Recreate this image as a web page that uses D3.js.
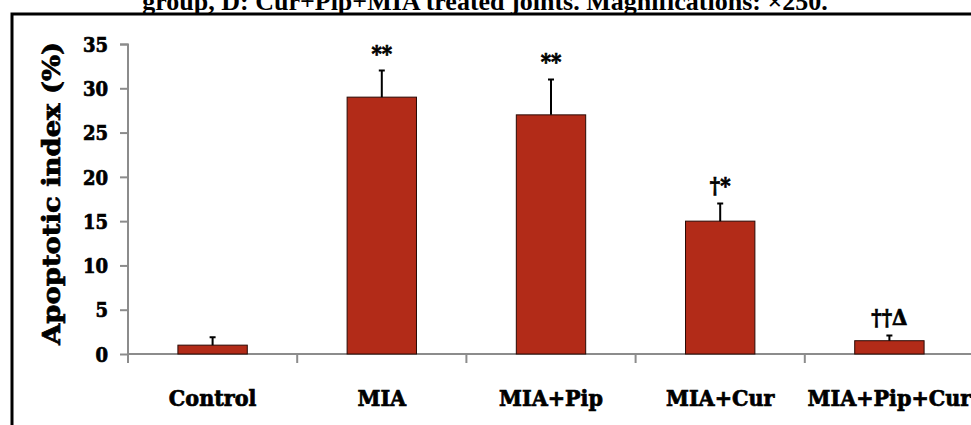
<!DOCTYPE html>
<html>
<head>
<meta charset="utf-8">
<script src="https://cdn.jsdelivr.net/npm/d3@7"></script>
<style>
  body { margin: 0; background: #fff; }
  svg { display: block; }
  .heavy { font-family: 'DejaVu Serif Condensed', 'DejaVu Serif', serif; font-weight: bold;
           stroke: #000; stroke-width: 0.7px; paint-order: stroke; fill: #000; }
</style>
</head>
<body>
<div id="chart"></div>
<script>
// groups, means, error (SD) and significance marks
const groups = ["Control", "MIA", "MIA+Pip", "MIA+Cur", "MIA+Pip+Cur"];
const means = [1, 29, 27, 15, 1.5];
const errors = [0.9, 3, 4, 2, 0.6];
const marks = ["", "**", "**", "†*", "††Δ"];
const yTicks = [0, 5, 10, 15, 20, 25, 30, 35];

const W = 971, H = 425;
const margin = { top: 44, right: -3, bottom: 71, left: 128 };
const width = W - margin.left - margin.right,
      height = H - margin.top - margin.bottom;

const svgRoot = d3.select("#chart").append("svg")
  .attr("width", W)
  .attr("height", H);

// caption cut off at the top (as in the source) + frame
svgRoot.append("text")
  .attr("x", 485).attr("y", 10)
  .attr("text-anchor", "middle")
  .style("font-family", "'Liberation Serif', 'Times New Roman', serif")
  .style("font-weight", "bold")
  .style("font-size", "26px")
  .text("group, D: Cur+Pip+MIA treated joints. Magnifications: ×250.");

svgRoot.append("path")
  .attr("d", `M12,${H} V14 H${W}`)
  .attr("fill", "none")
  .attr("stroke", "#000")
  .attr("stroke-width", 3);

const svg = svgRoot.append("g")
  .attr("transform", `translate(${margin.left},${margin.top})`);

const x = d3.scaleBand()
  .domain(groups)
  .range([0, width])
  .paddingInner(0.59)
  .paddingOuter(0.295);

const xb = d3.scaleBand().domain(groups).range([0, width]);

const y = d3.scaleLinear()
  .domain([0, 35])
  .range([height, 0]);

// y axis
const gy = svg.append("g")
  .call(d3.axisLeft(y).tickValues(yTicks).tickSize(8).tickPadding(12));
gy.select(".domain").attr("stroke", "#8c8c8c").attr("stroke-width", 2)
  .attr("d", `M-8,0.5H0V${height}`);
gy.selectAll(".tick line").attr("stroke", "#8c8c8c").attr("stroke-width", 2);
gy.selectAll(".tick text")
  .attr("class", "heavy")
  .attr("dy", "0.36em")
  .style("font-size", "20px");

// x axis line with boundary ticks
const gx = svg.append("g").attr("transform", `translate(0,${height})`);
gx.append("line")
  .attr("x1", 0).attr("x2", width + 10)
  .attr("stroke", "#8c8c8c").attr("stroke-width", 2);
gx.selectAll(".btick")
  .data(groups)
  .enter().append("line")
  .attr("class", "btick")
  .attr("x1", d => xb(d)).attr("x2", d => xb(d))
  .attr("y1", 0).attr("y2", 9)
  .attr("stroke", "#8c8c8c").attr("stroke-width", 2);
gx.selectAll(".xlab")
  .data(groups)
  .enter().append("text")
  .attr("class", "heavy")
  .attr("x", d => xb(d) + xb.bandwidth() / 2)
  .attr("y", 52)
  .attr("text-anchor", "middle")
  .style("font-size", "23px")
  .text(d => d);

// y title
svgRoot.append("text")
  .attr("class", "heavy")
  .attr("transform", `translate(60,${(42 + 345) / 2}) rotate(-90)`)
  .attr("text-anchor", "middle")
  .attr("textLength", 303)
  .attr("lengthAdjust", "spacingAndGlyphs")
  .style("font-size", "25px")
  .text("Apoptotic index (%)");

// bars
svg.selectAll(".bar")
  .data(groups)
  .enter().append("rect")
  .attr("class", "bar")
  .attr("x", d => x(d))
  .attr("y", (d, i) => y(means[i]))
  .attr("width", x.bandwidth())
  .attr("height", (d, i) => height - y(means[i]))
  .attr("fill", "#b22b18")
  .attr("stroke", "#2a0a05")
  .attr("stroke-width", 1);

// error bars
const cx = d => x(d) + x.bandwidth() / 2;
svg.selectAll(".err")
  .data(groups)
  .enter().append("path")
  .attr("class", "err")
  .attr("d", (d, i) => {
    const y0 = y(means[i]), y1 = y(means[i] + errors[i]);
    return `M${cx(d)},${y0}V${y1}M${cx(d) - 3},${y1}H${cx(d) + 3}`;
  })
  .attr("fill", "none")
  .attr("stroke", "#000")
  .attr("stroke-width", 2);

// significance marks
svg.selectAll(".mark")
  .data(groups)
  .enter().append("text")
  .attr("class", "heavy")
  .attr("x", d => cx(d))
  .attr("y", (d, i) => y(means[i] + errors[i]) - 10)
  .attr("text-anchor", "middle")
  .style("font-size", "22px")
  .text((d, i) => marks[i]);
</script>
</body>
</html>
